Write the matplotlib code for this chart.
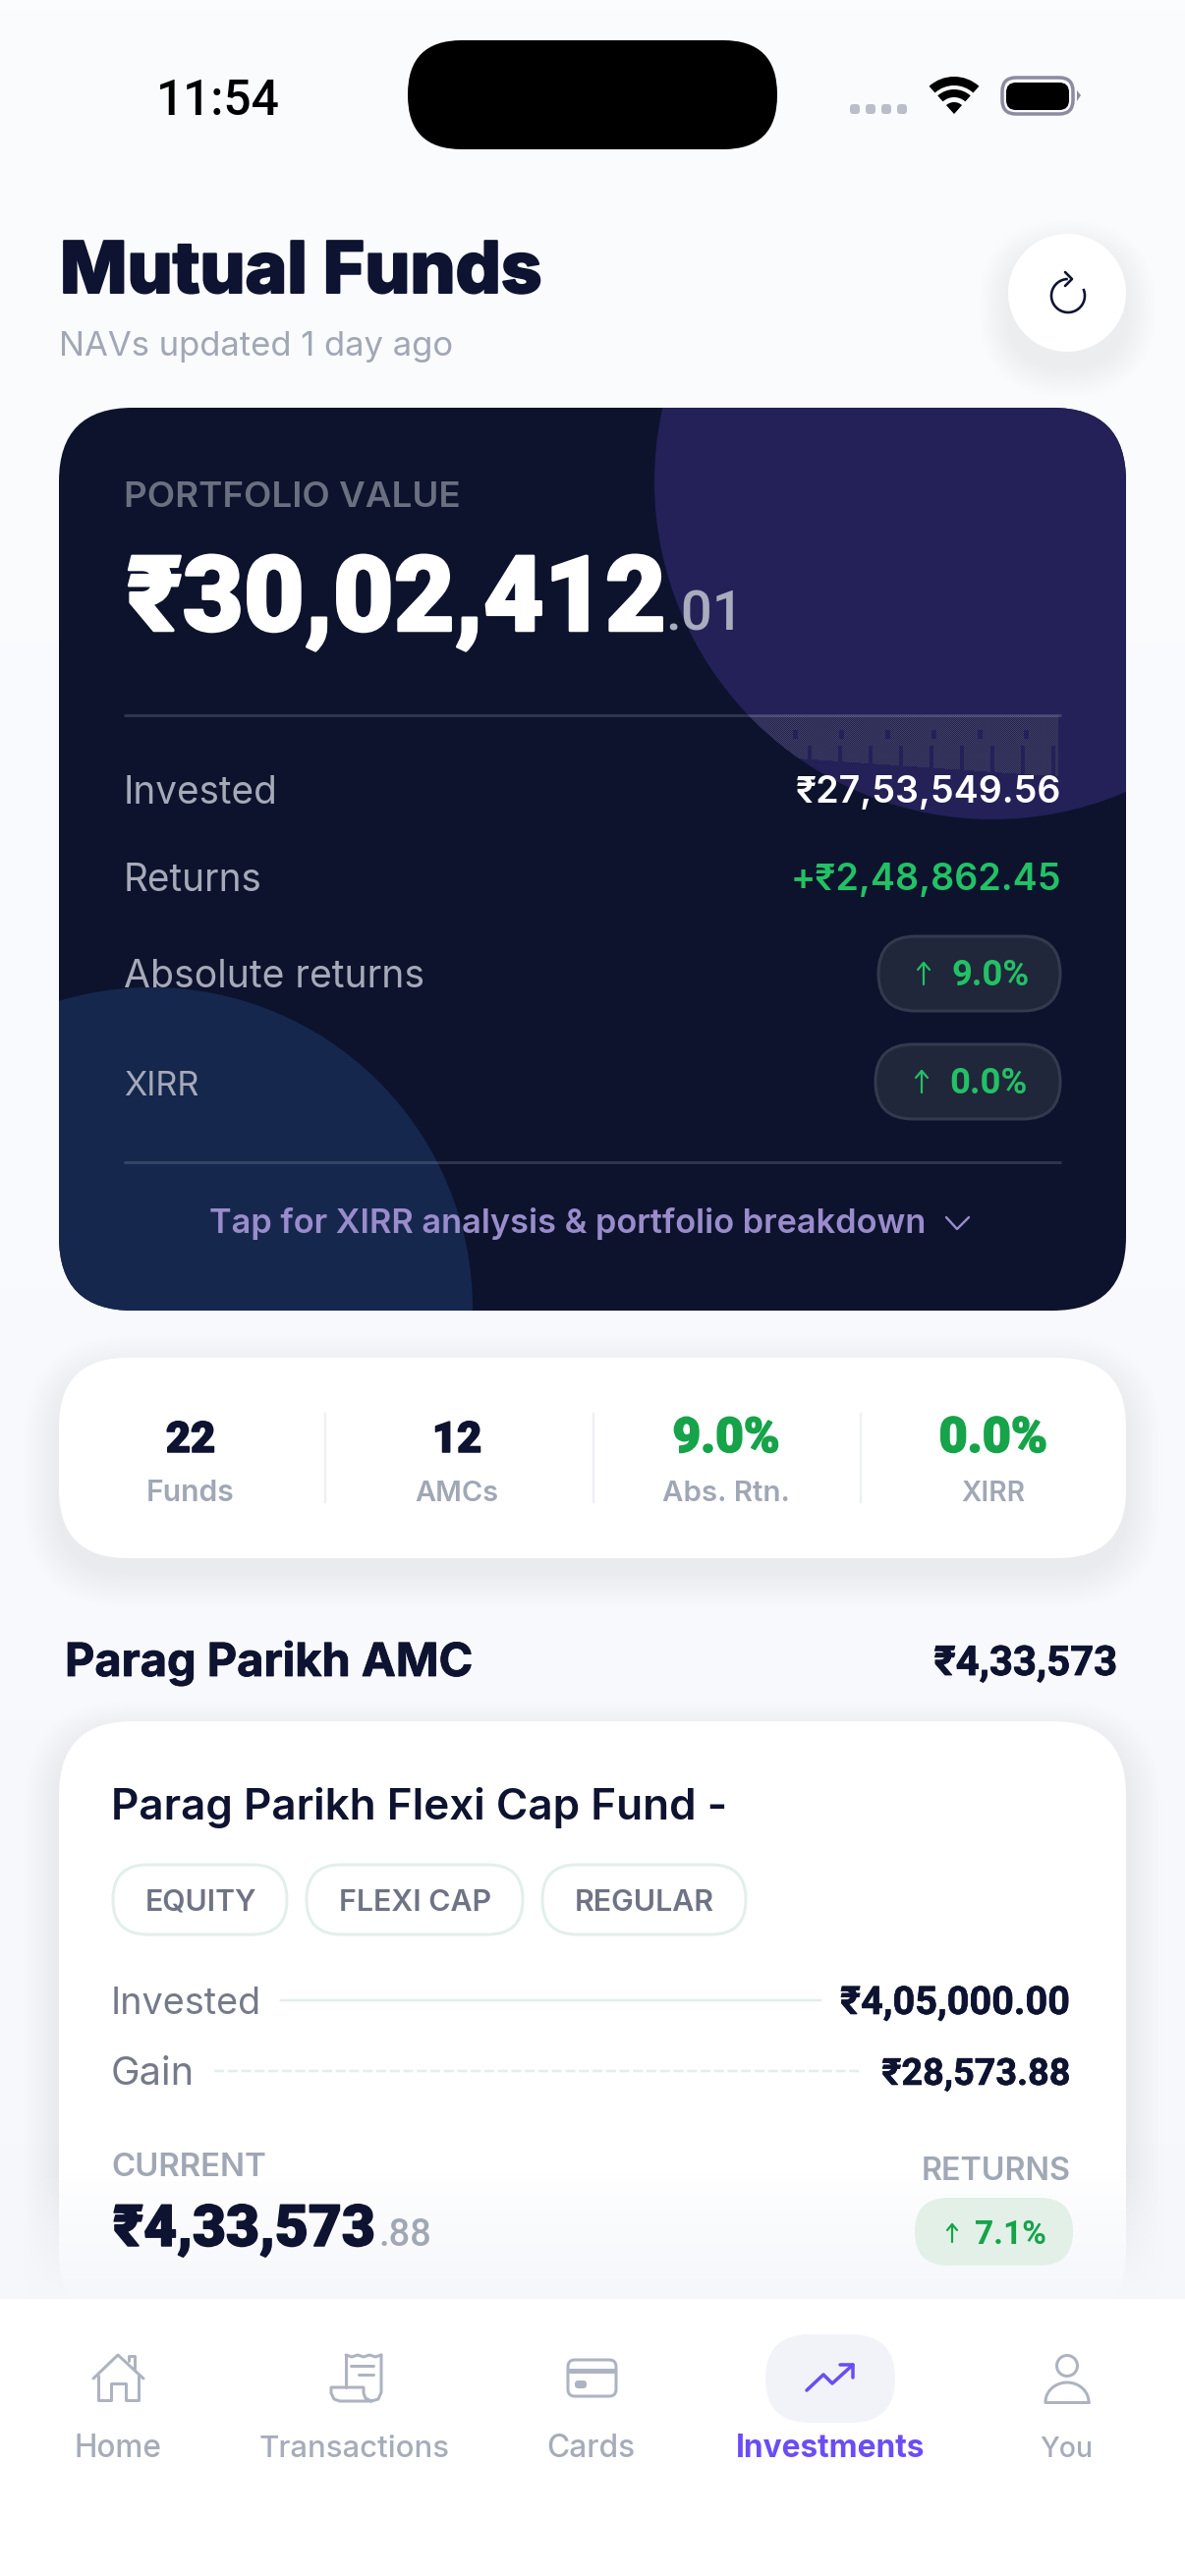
import matplotlib
matplotlib.use("Agg")
import matplotlib.pyplot as plt
import matplotlib.patheffects as pe
import numpy as np
from matplotlib.patches import Circle, FancyBboxPatch, Polygon, Wedge
from matplotlib.colors import LinearSegmentedColormap

W, H = 1206, 2622
plt.rcParams["font.family"] = ["Inter", "Noto Sans", "DejaVu Sans"]
TALL = ["Roboto", "Inter", "DejaVu Sans"]   # narrower digits for the big numbers

# Screen content
TITLE = "Mutual Funds"
SUBTITLE = "NAVs updated 1 day ago"
PORTFOLIO_WHOLE, PORTFOLIO_PAISE = "₹30,02,412", ".01"
INVESTED, RETURNS = "₹27,53,549.56", "+₹2,48,862.45"
ABS_RETURN, XIRR = "9.0%", "0.0%"
STAT_VALUES = ["22", "12", "9.0%", "0.0%"]
STAT_LABELS = ["Funds", "AMCs", "Abs. Rtn.", "XIRR"]
CHIPS = ["EQUITY", "FLEXI CAP", "REGULAR"]
NAV_LABELS = ["Home", "Transactions", "Cards", "Investments", "You"]

INK = "#0d1330"
CARD = "#0d132d"
GREEN = "#22c165"
GREEN2 = "#16a34a"
MUTED = "#a0a7b5"
NAV_GREY = "#adb3c1"
VIOLET = "#6a4df4"
LINE = "#e3efea"

fig = plt.figure(figsize=(W / 100, H / 100), dpi=100)
ax = fig.add_axes([0, 0, 1, 1])
ax.axis("off")
rend = fig.canvas.get_renderer()


def px(v):
    return v * 0.72


def fit_text(x, y, s, width, color, weight="regular", ha="left", z=4, family=None, stroke=0):
    # text on baseline y, font size chosen so the string is `width` pixels wide
    kw = {"family": family} if family else {}
    t = ax.text(x, y, s, color=color, fontweight=weight, fontsize=20, ha=ha,
                va="baseline", zorder=z, **kw)
    w = t.get_window_extent(rend).width
    t.set_fontsize(20 * width / w)
    if stroke:
        t.set_path_effects([pe.withStroke(linewidth=px(stroke), foreground=color)])
    return t


def rrect(x0, y0, x1, y1, r, fc, ec="none", lw=0, alpha=None, z=1):
    p = FancyBboxPatch((x0 + r, y0 + r), x1 - x0 - 2 * r, y1 - y0 - 2 * r,
                       boxstyle=f"round,pad={r},rounding_size={r}", fc=fc, ec=ec,
                       lw=px(lw), alpha=alpha, zorder=z)
    ax.add_patch(p)
    return p


def shadow(x0, y0, x1, y1, r, dy=14, spread=36, n=14, a=0.0045):
    for i in range(n):
        d = spread * (n - i) / n
        rrect(x0 - d, y0 - d + dy, x1 + d, y1 + d + dy, r + d, "#6f78a8", alpha=a, z=0.5)


def poly(pts, color, lw=3, z=8):
    xs, ys = zip(*pts)
    ax.plot(xs, ys, color=color, lw=px(lw), solid_capstyle="round",
            solid_joinstyle="round", zorder=z)


# page background
bg = LinearSegmentedColormap.from_list("bg", ["#fbfcfe", "#f9fafd", "#f6f7fb"])
ax.imshow(np.linspace(0, 1, 256)[:, None], cmap=bg, extent=(0, W, H, 0), aspect="auto", zorder=0)

# status bar
fit_text(159, 117, "11:54", 126, "#000000", "medium", family=TALL)
rrect(415, 41, 791, 152, 55, "#000000")
for cx in (870, 886, 902, 918):
    rrect(cx - 5, 106, cx + 5, 116, 3.5, "#b9bec8")
for r, w in ((38, 9), (25, 8), (12, 12)):
    ax.add_patch(Wedge((971, 116), r, 228, 312, width=w, fc="#000000", ec="none", zorder=2))
rrect(1020, 79, 1092, 116, 14, "none", ec="#8c8ca0", lw=3.5)
rrect(1024, 84, 1088, 112, 10, "#000000")
ax.add_patch(Polygon([(1096, 92), (1100, 97), (1096, 103)], fc="#8c8ca0", ec="none"))

# header
fit_text(61, 298, TITLE, 490, INK, "heavy", stroke=2)
fit_text(60, 362, SUBTITLE, 402, MUTED)
shadow(1026, 238, 1146, 358, 60, dy=16, spread=30)
ax.add_patch(Circle((1086, 298), 60, fc="#ffffff", ec="none", zorder=1))
ang = np.radians(np.linspace(-20, 265, 60))
ax.plot(1087 + 17 * np.cos(ang), 301 + 17 * np.sin(ang), color=INK, lw=px(2.6), zorder=3)
poly([(1084, 277), (1091, 284), (1084, 291)], INK, lw=2.6, z=3)

# portfolio card
card = rrect(60, 415, 1146, 1334, 75, CARD)
c1 = Circle((1010, 490), 344, fc="#232158", ec="none", zorder=1.1)
c2 = Circle((154, 1332), 327, fc="#16274e", ec="none", zorder=1.1)
ax.add_patch(c1)
ax.add_patch(c2)
c1.set_clip_path(card)
c2.set_clip_path(card)

# dithered band under the first divider
ny, nx = 62, 317
yy, xx = np.mgrid[0:ny, 0:nx]
band = np.zeros((ny, nx, 4))
band[..., :3] = (0.30, 0.31, 0.37)
notch = ((xx % 31 < 4) & (yy > 30)) | ((xx % 47 < 5) & (yy > 14) & (yy < 24))
keep = ((xx + yy) % 2 == 0) & (yy < 40 + 22 * (xx / nx)) & ~notch
band[..., 3] = keep * 0.75
im = ax.imshow(band, extent=(760, 1077, 790, 728), aspect="auto", interpolation="nearest", zorder=1.2)
im.set_clip_path(c1)

ax.plot([126, 1080], [728, 728], color="#ffffff", alpha=0.14, lw=px(3), zorder=2, solid_capstyle="butt")
ax.plot([126, 1080], [1183, 1183], color="#ffffff", alpha=0.14, lw=px(3), zorder=2, solid_capstyle="butt")

fit_text(126, 516, "PORTFOLIO VALUE", 342, "#6b7080", "semibold")
fit_text(129, 642, PORTFOLIO_WHOLE, 546, "#ffffff", "heavy", family=TALL, stroke=2.5)
fit_text(677, 642, PORTFOLIO_PAISE, 80, "#a8acbc", "medium", family=TALL)

fit_text(126, 818, "Invested", 157, "#a6aab8")
fit_text(1080, 817, INVESTED, 271, "#ffffff", "semibold", ha="right")
fit_text(126, 907, "Returns", 141, "#a6aab8")
fit_text(1080, 906, RETURNS, 276, GREEN, "semibold", ha="right")
fit_text(126, 1005, "Absolute returns", 306, "#a6aab8")
fit_text(126, 1115, "XIRR", 77, "#a6aab8")

for x0, y0, y1, arrow_x, txt, tx in ((894, 953, 1029, 940, ABS_RETURN, 968),
                                     (891, 1063, 1139, 938, XIRR, 966)):
    rrect(x0, y0, 1079, y1, 38, "#20273a", ec="#343a4e", lw=3, z=2)
    mid = (y0 + y1) / 2
    poly([(arrow_x, mid - 11), (arrow_x, mid + 11)], GREEN, lw=2.2, z=3)
    poly([(arrow_x - 6, mid - 4), (arrow_x, mid - 11), (arrow_x + 6, mid - 4)], GREEN, lw=2.2, z=3)
    fit_text(tx, mid + 12, txt, 79, GREEN, "bold", family=TALL)

fit_text(213, 1255, "Tap for XIRR analysis & portfolio breakdown", 731, "#9a8ccb", "semibold")
poly([(963, 1239), (974, 1251), (986, 1239)], "#9a8ccb", lw=2.4, z=3)

# summary strip
shadow(60, 1382, 1146, 1586, 70)
rrect(60, 1382, 1146, 1586, 70, "#ffffff")
stat_w = [50, 50, 109, 110]
stat_cx = [194, 465, 739, 1011]
label_w = [90, 85, 130, 65]
stat_cols = [INK, INK, GREEN2, GREEN2]
for val, lab, cx, w1, w2, col in zip(STAT_VALUES, STAT_LABELS, stat_cx, stat_w, label_w, stat_cols):
    fit_text(cx, 1478, val, w1, col, "heavy", ha="center", family=TALL, stroke=1.5)
    fit_text(cx, 1528, lab, w2, MUTED, "semibold", ha="center")
for dx in (331, 604, 876):
    ax.plot([dx, dx], [1439, 1529], color="#eff0f6", lw=px(2.5), zorder=2)

# AMC group header
fit_text(66, 1706, "Parag Parikh AMC", 416, INK, "bold", stroke=0.8)
fit_text(1137, 1705, "₹4,33,573", 186, INK, "bold", ha="right", family=TALL, stroke=0.8)

# fund card
shadow(60, 1752, 1146, 2367, 75)
rrect(60, 1752, 1146, 2367, 75, "#ffffff")
fit_text(113, 1852, "Parag Parikh Flexi Cap Fund -", 627, INK, "semibold")
chip_x = [(115, 292, 148, 113), (312, 532, 345, 155), (552, 759, 585, 142)]
for name, (x0, x1, tx, tw) in zip(CHIPS, chip_x):
    rrect(x0, 1898, x1, 1969, 35, "#ffffff", ec=LINE, lw=3, z=2)
    fit_text(tx, 1945, name, tw, "#6e7385", "semibold")

fit_text(113, 2050, "Invested", 153, "#757a8a")
ax.plot([286, 835], [2036, 2036], color=LINE, lw=px(2.5), zorder=2)
fit_text(1089, 2050, "₹4,05,000.00", 233, INK, "semibold", ha="right", family=TALL, stroke=0.6)
fit_text(113, 2122, "Gain", 85, "#757a8a")
ax.plot([218, 875], [2108, 2108], color=LINE, lw=px(2.5), ls=(0, (4, 1.5)), zorder=2)
fit_text(1089, 2122, "₹28,573.88", 192, INK, "semibold", ha="right", family=TALL, stroke=0.6)

fit_text(113, 2215, "CURRENT", 158, MUTED, "semibold")
fit_text(1090, 2219, "RETURNS", 152, MUTED, "semibold", ha="right")

# fade above the tab bar: washes the card, not what sits on it
fade = np.zeros((130, 1, 4))
fade[..., :3] = (0.965, 0.97, 0.985)
fade[:, 0, 3] = np.linspace(0, 1, 130) ** 0.8
ax.imshow(fade, extent=(0, W, 2340, 2210), aspect="auto", zorder=3.5)

fit_text(115, 2286, "₹4,33,573", 266, INK, "heavy", family=TALL, stroke=1.5)
fit_text(385, 2286, ".88", 54, MUTED, "medium", family=TALL)
rrect(931, 2237, 1092, 2306, 34, "#e2f0e8", z=3.6)
poly([(969, 2264), (969, 2282)], GREEN2, lw=2.2, z=3.7)
poly([(964, 2270), (969, 2264), (974, 2270)], GREEN2, lw=2.2, z=3.7)
fit_text(992, 2284, "7.1%", 73, GREEN2, "bold", family=TALL)

# tab bar
ax.fill_between([0, W], 2340, H, color="#ffffff", lw=0, zorder=6)
rrect(779, 2376, 911, 2466, 45, "#f2f3f9", z=7)

poly([(95, 2421), (120, 2397), (146, 2421)], NAV_GREY)
poly([(100, 2418), (100, 2443), (113, 2443), (113, 2426), (128, 2426), (128, 2443), (141, 2443), (141, 2418)], NAV_GREY)
poly([(131, 2403), (131, 2398), (137, 2398), (137, 2412)], NAV_GREY)

poly([(352, 2397), (352, 2430)], NAV_GREY)
poly([(352, 2397), (358, 2399), (364, 2397), (370, 2399), (376, 2397), (382, 2399), (388, 2397)], NAV_GREY)
poly([(388, 2397), (388, 2435), (385, 2442), (378, 2444), (372, 2441), (370, 2436), (370, 2430), (337, 2430),
      (337, 2436), (340, 2442), (346, 2444), (378, 2444)], NAV_GREY)
poly([(357, 2408), (380, 2408)], NAV_GREY)
poly([(365, 2417), (380, 2417)], NAV_GREY)

rrect(578, 2402, 627, 2439, 7, "none", ec=NAV_GREY, lw=3, z=8)
poly([(580, 2413), (625, 2413)], NAV_GREY, lw=5)
rrect(585, 2423, 597, 2431, 3.5, NAV_GREY, z=8)

poly([(821, 2433), (838, 2417), (847, 2426), (868, 2407)], VIOLET, lw=3.5)
poly([(855, 2407), (868, 2407), (868, 2420)], VIOLET, lw=3.5)

ax.add_patch(Circle((1086, 2408), 10.5, fc="none", ec=NAV_GREY, lw=px(3), zorder=8))
ang = np.radians(np.linspace(180, 360, 40))
ax.plot(1086 + 22 * np.cos(ang), 2445 + 20 * np.sin(ang), color=NAV_GREY, lw=px(3), zorder=8)
poly([(1064, 2445), (1108, 2445)], NAV_GREY)

nav_cx = [120, 361, 601, 845, 1085]
nav_w = [89, 194, 90, 193, 54]
for name, cx, w in zip(NAV_LABELS, nav_cx, nav_w):
    active = name == "Investments"
    fit_text(cx, 2501, name, w, VIOLET if active else "#a6acb9", "bold" if active else "medium",
             ha="center", z=8)

ax.set_xlim(0, W)
ax.set_ylim(H, 0)
fig.savefig("out.png", dpi=100)
